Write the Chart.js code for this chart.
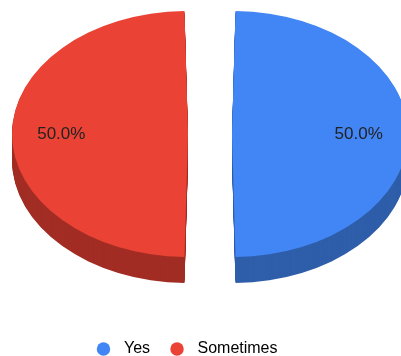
<!DOCTYPE html>
<html lang="en">
<head>
  <meta charset="UTF-8" />
  <title>Yes / Sometimes</title>
  <script src="https://cdn.jsdelivr.net/npm/chart.js"></script>
  <style>
    html, body { margin: 0; padding: 0; background: #fff; }
    #wrap { width: 401px; height: 356px; position: relative; }
  </style>
</head>
<body>
  <div id="wrap"><canvas id="pieChart"></canvas></div>
  <script>
    const labels = ["Yes", "Sometimes"];
    const values = [1, 1];
    const topColors = ["#4285f4", "#ea4335"];
    const sideColors = ["#2f5eaa", "#a22d24"];

    // ellipse look: squash the round pie and push the depth layers under it
    const tilt = {
      centerX: 210,
      centerY: 134,
      radius: 176,
      squash: 123 / 176,
      depth: 26
    };
    const gap = 22; // px each half is pulled out (chart.js moves arcs by offset / 4 and grows them by it)

    const place = (chart, ctx, dy) => {
      const area = chart.chartArea;
      const cx = (area.left + area.right) / 2;
      const cy = (area.top + area.bottom) / 2;
      ctx.translate(tilt.centerX, tilt.centerY + dy);
      ctx.scale(1, tilt.squash);
      ctx.translate(-cx, -cy);
    };

    const pie3d = {
      id: "pie3d",
      beforeDatasetsDraw(chart) {
        const ctx = chart.ctx;
        const arcs = chart.getDatasetMeta(0).data;
        for (let d = tilt.depth; d >= 1; d--) {
          ctx.save();
          place(chart, ctx, d);
          arcs.forEach((el, i) => {
            const old = el.options.backgroundColor;
            el.options.backgroundColor = sideColors[i];
            el.draw(ctx);
            el.options.backgroundColor = old;
          });
          ctx.restore();
        }
        ctx.save();
        place(chart, ctx, 0);
      },
      afterDatasetsDraw(chart) {
        const ctx = chart.ctx;
        ctx.restore();
        const area = chart.chartArea;
        const cx = (area.left + area.right) / 2;
        const cy = (area.top + area.bottom) / 2;
        const total = values.reduce((a, b) => a + b, 0);
        const arcs = chart.getDatasetMeta(0).data;
        ctx.save();
        ctx.font = "17px 'Liberation Sans', Arial, sans-serif";
        ctx.fillStyle = "#222";
        ctx.textAlign = "center";
        ctx.textBaseline = "middle";
        arcs.forEach((el, i) => {
          const mid = (el.startAngle + el.endAngle) / 2;
          const dist = gap + tilt.radius * 0.72;
          const x = el.x + Math.cos(mid) * dist;
          const y = el.y + Math.sin(mid) * dist;
          const sx = tilt.centerX + (x - cx);
          const sy = tilt.centerY + (y - cy) * tilt.squash;
          const pct = (values[i] / total * 100).toFixed(1) + "%";
          ctx.fillText(pct, sx, sy);
        });
        ctx.restore();
      }
    };

    new Chart(document.getElementById("pieChart"), {
      type: "pie",
      data: {
        labels,
        datasets: [{
          data: values,
          backgroundColor: topColors,
          borderWidth: 0,
          offset: gap * 4,
          radius: tilt.radius - gap,
          clip: false
        }]
      },
      options: {
        responsive: true,
        maintainAspectRatio: false,
        animation: false,
        layout: { padding: { right: 28, bottom: -11 } },
        plugins: {
          tooltip: { enabled: false },
          legend: {
            position: "bottom",
            labels: {
              usePointStyle: true,
              pointStyle: "circle",
              boxHeight: 9.5,
              padding: 19,
              color: "#222",
              font: { family: "'Liberation Sans', Arial, sans-serif", size: 16 },
              generateLabels(chart) {
                return labels.map((t, i) => ({
                  text: " " + t,
                  fillStyle: topColors[i],
                  strokeStyle: topColors[i],
                  lineWidth: 0,
                  pointStyle: "circle",
                  hidden: false,
                  index: i
                }));
              }
            }
          }
        }
      },
      plugins: [pie3d]
    });
  </script>
</body>
</html>
